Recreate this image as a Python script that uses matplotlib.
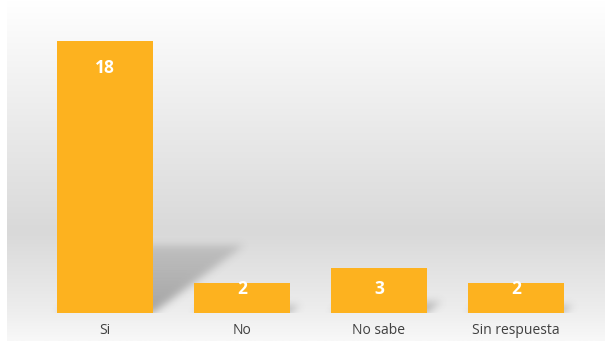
import numpy as np
import matplotlib.pyplot as plt
from matplotlib.colors import LinearSegmentedColormap

categories = ["Si", "No", "No sabe", "Sin respuesta"]
values = [18, 2, 3, 2]

bar_color = "#FDB21F"

fig = plt.figure(figsize=(6.05, 3.41), dpi=100)

# background gradient panel
bg = fig.add_axes([7 / 605, 0, 1 - 7 / 605, 1])
bg.set_axis_off()
grad_cmap = LinearSegmentedColormap.from_list(
    "bg",
    [(0.0, "#ffffff"), (0.3, "#eeeeee"), (0.68, "#d9d9d9"), (0.9, "#ececec"), (1.0, "#f8f8f8")],
)
g = np.linspace(0, 1, 256).reshape(-1, 1)
bg.imshow(g, aspect="auto", cmap=grad_cmap, extent=[0, 1, 0, 1], origin="upper")

# main axes: centers at px 105..515, bottom at y=313
px_unit = 137
left = 105 - 0.5 * px_unit
width = 4 * px_unit
ppv = 15.1
bottom = 341 - 313
ymax = 20
ax = fig.add_axes([left / 605, bottom / 341, width / 605, ymax * ppv / 341])
ax.set_xlim(-0.5, 3.5)
ax.set_ylim(0, ymax)
ax.patch.set_alpha(0)

x = np.arange(len(categories))
bw = 0.7


def blur(a, sigma):
    r = int(3 * sigma)
    k = np.exp(-0.5 * (np.arange(-r, r + 1) / sigma) ** 2)
    k /= k.sum()
    a = np.apply_along_axis(lambda m: np.convolve(m, k, mode="same"), 0, a)
    a = np.apply_along_axis(lambda m: np.convolve(m, k, mode="same"), 1, a)
    return a


# soft perspective shadows (pixel grid over the axes)
nx, ny = width, int(ymax * ppv)
gx = np.linspace(-0.5, 3.5, nx)
gy = np.linspace(0, ymax, ny)
XX, YY = np.meshgrid(gx, gy)
mask = np.zeros_like(XX)
for xi, v in zip(x, values):
    sh = v * 0.25
    dx = v * 0.037
    t = YY / sh
    shift = dx * t
    inside = (YY >= 0) & (YY <= sh) & (XX >= xi - bw / 2 + shift) & (XX <= xi + bw / 2 + shift)
    mask = np.maximum(mask, inside * (1 - 0.55 * np.clip(t, 0, 1)))
mask = blur(mask, 4)
rgba = np.zeros((ny, nx, 4))
rgba[..., :3] = 0.35
rgba[..., 3] = mask * 0.5
ax.imshow(rgba, extent=[-0.5, 3.5, 0, ymax], origin="lower", aspect="auto", zorder=1)

bars = ax.bar(x, values, width=bw, color=bar_color, zorder=2)

for xi, v in zip(x, values):
    ly = v - 1.8 if v > 5 else 1.6
    ax.text(xi, ly, str(v), ha="center", va="center", color="white",
            fontsize=12.5, fontweight="bold", family="Open Sans", zorder=3)

ax.set_xticks(x)
ax.set_xticklabels(categories, fontsize=10, color="#404040", family="Open Sans")
ax.tick_params(axis="x", length=0, pad=7)
ax.set_yticks([])
for sp in ax.spines.values():
    sp.set_visible(False)

fig.savefig("out.png", dpi=100)
